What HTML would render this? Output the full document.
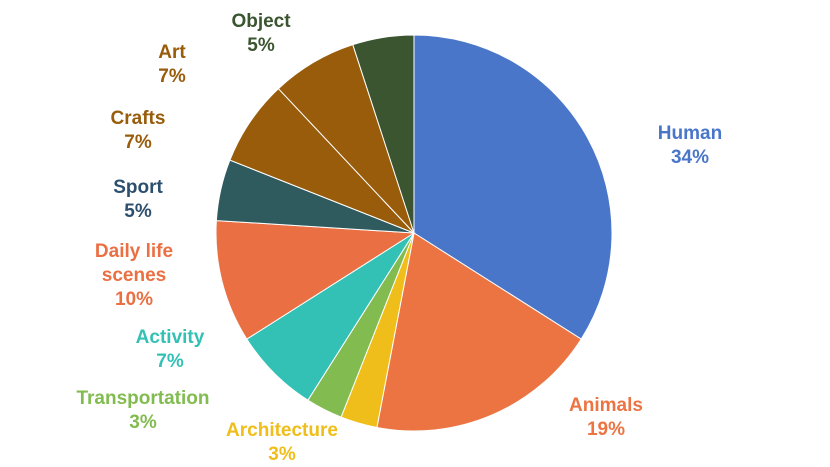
<!DOCTYPE html>
<html><head><meta charset="utf-8"><style>
html,body{margin:0;padding:0;background:#fff;width:830px;height:467px;overflow:hidden}
svg text{font-family:"Liberation Sans",Arial,sans-serif;font-weight:bold;font-size:19px;text-anchor:middle}
</style></head><body>
<svg id="chart" width="830" height="467" viewBox="0 0 830 467"></svg>
<script>
const categories=["Human","Animals","Architecture","Transportation","Activity","Daily life scenes","Sport","Crafts","Art","Object"];
const values=[34,19,3,3,7,10,5,7,7,5];
const colors=["#4a76c9","#ec7443","#f0be1a","#82bc50","#34c1b5","#ea7044","#2f5a5e","#985c0b","#985c0b","#3b5530"];
const textColors=["#4a76c9","#ec7443","#f0be1a","#82bc50","#34c1b5","#ea7044","#2d4f6e","#985c0b","#985c0b","#3b5530"];
const labelLines=[["Human","34%"],["Animals","19%"],["Architecture","3%"],["Transportation","3%"],["Activity","7%"],["Daily life","scenes","10%"],["Sport","5%"],["Crafts","7%"],["Art","7%"],["Object","5%"]];
const labelPos=[[690,139],[606,411],[282,436],[143,404],[170,343],[134,257],[138,193],[138,124],[172,58],[261,27]];
const svg=document.getElementById('chart');
const NS="http://www.w3.org/2000/svg";
const cx=414,cy=233,r=198;
const total=values.reduce((a,b)=>a+b,0);
let acc=0;
values.forEach((v,i)=>{
  const a0=acc/total*2*Math.PI;acc+=v;const a1=acc/total*2*Math.PI;
  const p=(a)=>[cx+r*Math.sin(a),cy-r*Math.cos(a)];
  const [x0,y0]=p(a0),[x1,y1]=p(a1);
  const path=document.createElementNS(NS,'path');
  path.setAttribute('d',`M${cx},${cy}L${x0},${y0}A${r},${r} 0 ${a1-a0>Math.PI?1:0} 1 ${x1},${y1}Z`);
  path.setAttribute('fill',colors[i]);
  path.setAttribute('stroke','#fff');path.setAttribute('stroke-width','1');
  
  
  svg.appendChild(path);
  const t=document.createElementNS(NS,'text');
  t.setAttribute('fill',textColors[i]);
  const [lx,ly]=labelPos[i];
  labelLines[i].forEach((s,k)=>{
    const ts=document.createElementNS(NS,'tspan');
    ts.setAttribute('x',lx);ts.setAttribute('y',ly+k*24);ts.textContent=s;t.appendChild(ts);
  });
  
  
  svg.appendChild(t);
});
</script>
</body></html>
